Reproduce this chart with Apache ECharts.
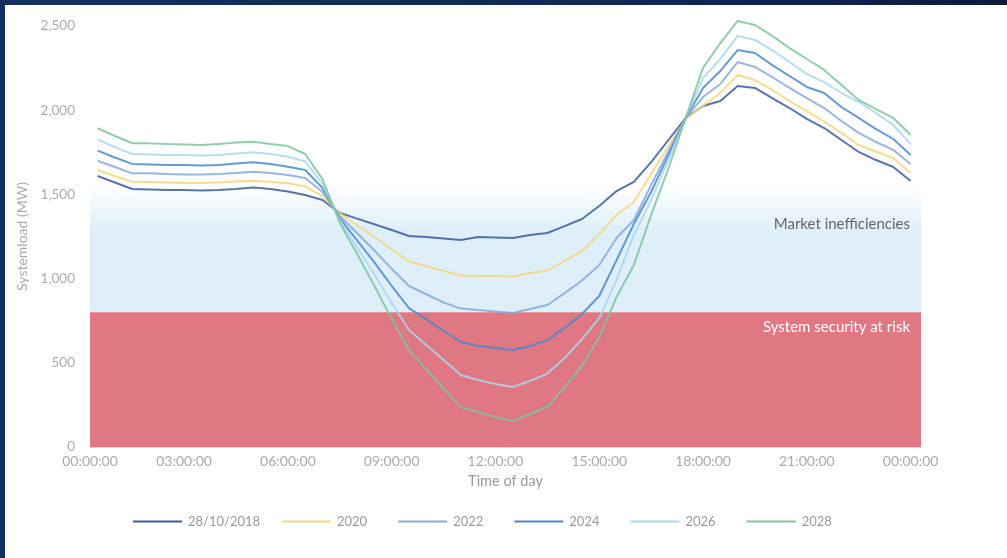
<!DOCTYPE html>
<html>
<head>
<meta charset="utf-8">
<script src="https://cdn.jsdelivr.net/npm/echarts@6/dist/echarts.min.js"></script>
<style>
  html, body { margin: 0; padding: 0; }
  body {
    width: 1007px; height: 558px; overflow: hidden; position: relative;
    background: linear-gradient(90deg, #13305f 0%, #0f2a55 60%, #0b1d3d 100%);
  }
  #paper { position: absolute; left: 5px; top: 5px; right: 0; bottom: 0; background: #fff; }
  #chart { position: absolute; left: 0; top: 0; width: 1007px; height: 558px; }
</style>
</head>
<body>
<div id="paper"></div>
<div id="chart"></div>
<script>
// half-hourly time stamps (hours, period ending)
var times = [0.5, 1, 1.5, 2, 2.5, 3, 3.5, 4, 4.5, 5, 5.5, 6, 6.5, 7, 7.5, 8,
  8.5, 9, 9.5, 10, 10.5, 11, 11.5, 12, 12.5, 13, 13.5, 14, 14.5, 15, 15.5, 16,
  16.5, 17, 17.5, 18, 18.5, 19, 19.5, 20, 20.5, 21, 21.5, 22, 22.5, 23, 23.5, 24];

var load2018 = [1609, 1571, 1532, 1529, 1526, 1526, 1523, 1526, 1532, 1541, 1532, 1517, 1496, 1467, 1390, 1356,
  1323, 1289, 1253, 1247, 1238, 1229, 1247, 1244, 1241, 1259, 1271, 1312, 1354, 1431, 1520, 1574,
  1692, 1823, 1954, 2025, 2055, 2144, 2132, 2072, 2013, 1948, 1894, 1823, 1752, 1704, 1663, 1580];
var load2020 = [1645, 1609, 1575, 1573, 1571, 1568, 1568, 1571, 1577, 1581, 1573, 1566, 1547, 1490, 1387, 1317,
  1247, 1173, 1102, 1073, 1045, 1018, 1015, 1015, 1012, 1033, 1048, 1105, 1164, 1265, 1378, 1455,
  1623, 1787, 1948, 2027, 2102, 2209, 2179, 2120, 2055, 1995, 1933, 1865, 1793, 1755, 1716, 1627];
var load2022 = [1700, 1663, 1625, 1626, 1621, 1618, 1618, 1621, 1627, 1635, 1627, 1615, 1597, 1514, 1372, 1269,
  1167, 1058, 956, 907, 858, 822, 814, 805, 796, 819, 843, 914, 989, 1081, 1241, 1348,
  1556, 1758, 1954, 2078, 2156, 2286, 2257, 2197, 2132, 2072, 2013, 1936, 1865, 1811, 1764, 1681];
var load2024 = [1760, 1719, 1681, 1678, 1675, 1675, 1672, 1675, 1684, 1691, 1681, 1664, 1645, 1538, 1358, 1227,
  1096, 957, 825, 758, 689, 624, 600, 588, 576, 600, 635, 707, 790, 897, 1110, 1324,
  1514, 1734, 1954, 2132, 2233, 2357, 2340, 2268, 2203, 2138, 2102, 2019, 1954, 1888, 1829, 1734];
var load2026 = [1827, 1781, 1740, 1737, 1734, 1734, 1731, 1734, 1743, 1750, 1740, 1724, 1696, 1562, 1345, 1185,
  1026, 857, 695, 606, 517, 428, 398, 374, 356, 392, 436, 528, 641, 766, 992, 1259,
  1467, 1704, 1954, 2191, 2304, 2441, 2417, 2357, 2286, 2215, 2167, 2102, 2049, 1983, 1912, 1799];
var load2028 = [1893, 1847, 1804, 1803, 1799, 1796, 1793, 1799, 1808, 1813, 1799, 1787, 1740, 1591, 1331, 1146,
  958, 761, 574, 461, 346, 238, 208, 178, 154, 196, 238, 356, 481, 653, 891, 1081,
  1378, 1654, 1954, 2251, 2399, 2530, 2506, 2441, 2369, 2304, 2239, 2150, 2061, 2007, 1954, 1853];

var seriesNames = ['28/10/2018', '2020', '2022', '2024', '2026', '2028'];
var seriesColors = ['#3a5d9c', '#f6d67a', '#86a9d8', '#4a88cc', '#a9d6f0', '#7cc59d'];

var tickHours = [0, 3, 6, 9, 12, 15, 18, 21, 24];
var tickLabels = ['00:00:00', '03:00:00', '06:00:00', '09:00:00', '12:00:00',
  '15:00:00', '18:00:00', '21:00:00', '00:00:00'];

// zones (MW)
var riskTop = 800;
var inefficiencyTop = 1550;

var xMin = 0.28, xMax = 24.3;

var myChart = echarts.init(document.getElementById('chart'));

function pairs(vals) {
  return vals.map(function (v, i) { return [times[i], v]; });
}

var allLoads = [load2018, load2020, load2022, load2024, load2026, load2028];

var series = allLoads.map(function (vals, k) {
  var s = {
    name: seriesNames[k],
    type: 'line',
    data: pairs(vals),
    symbol: 'none',
    clip: false,
    lineStyle: { width: 2, color: seriesColors[k], opacity: 0.85 },
    itemStyle: { color: seriesColors[k] },
    z: 3
  };
  if (k === 0) {
    s.markArea = {
      silent: true,
      data: [
        [{
          yAxis: riskTop,
          itemStyle: {
            color: {
              type: 'linear', x: 0, y: 0, x2: 0, y2: 1,
              colorStops: [
                { offset: 0, color: 'rgba(222,239,249,0)' },
                { offset: 0.35, color: 'rgba(222,239,249,1)' },
                { offset: 1, color: 'rgba(222,239,249,1)' }
              ]
            }
          },
          label: {
            show: true, position: 'insideTopRight', distance: 11, offset: [0, 20],
            color: '#666', fontSize: 15, fontFamily: 'Lato'
          },
          name: 'Market inefficiencies'
        }, { yAxis: inefficiencyTop }],
        [{
          yAxis: 0,
          itemStyle: { color: '#df7882' },
          label: {
            show: true, position: 'insideTopRight', distance: 11, offset: [0, -4],
            color: '#fff', fontSize: 15, fontFamily: 'Lato'
          },
          name: 'System security at risk'
        }, { yAxis: riskTop }]
      ]
    };
  }
  return s;
});

var legendBase = {
  top: 510,
  icon: 'rect',
  itemWidth: 49,
  itemHeight: 2,
  textStyle: { color: '#999', fontSize: 13, padding: [0, 0, 0, 1] }
};

var option = {
  textStyle: { fontFamily: 'Lato' },
  animation: false,
  grid: { left: 90, right: 86, top: 26, bottom: 111 },
  legend: [
    Object.assign({}, legendBase, { data: seriesNames.slice(0, 1), left: 128 }),
    Object.assign({}, legendBase, { data: seriesNames.slice(1), left: 277, itemGap: 31 })
  ],
  xAxis: {
    type: 'value',
    min: xMin,
    max: xMax,
    name: 'Time of day',
    nameLocation: 'middle',
    nameGap: 27,
    nameTextStyle: { color: '#999', fontSize: 14.5 },
    splitLine: { show: false },
    axisTick: { show: false },
    axisLine: { lineStyle: { color: '#dddddd' } },
    axisLabel: {
      color: '#aaa',
      fontSize: 14,
      margin: 7,
      customValues: [xMin].concat(tickHours.slice(1)),
      formatter: function (v) {
        var best = 0;
        for (var i = 0; i < tickHours.length; i++) {
          if (Math.abs(tickHours[i] - v) < Math.abs(tickHours[best] - v)) best = i;
        }
        return tickLabels[best];
      }
    }
  },
  yAxis: {
    type: 'value',
    min: 0,
    max: 2500,
    interval: 500,
    name: 'Systemload (MW)',
    nameLocation: 'middle',
    nameGap: 58,
    nameTextStyle: { color: '#aaa', fontSize: 14 },
    splitLine: { show: false },
    axisLine: { show: false },
    axisTick: { show: false },
    axisLabel: {
      color: '#aaa',
      fontSize: 13.5,
      margin: 15,
      formatter: function (v) { return v.toLocaleString('en-US'); }
    }
  },
  series: series
};

myChart.setOption(option);
</script>
</body>
</html>
